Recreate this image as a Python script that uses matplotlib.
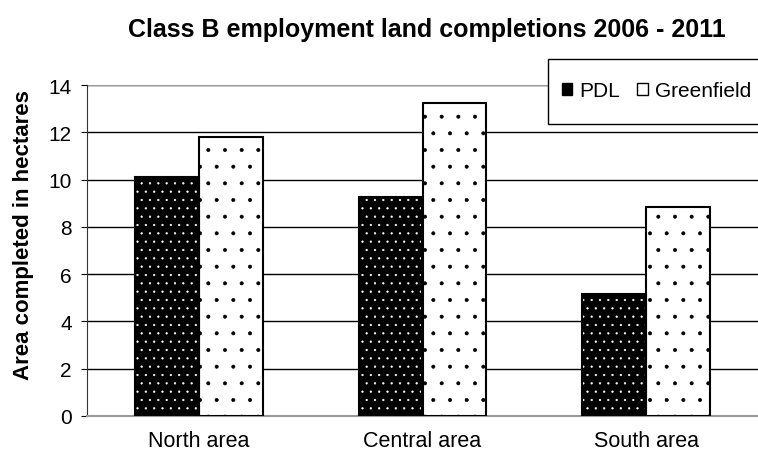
import numpy as np
import matplotlib.pyplot as plt
from matplotlib.patches import Patch, Rectangle

plt.rcParams['font.family'] = ['Liberation Sans', 'DejaVu Sans']
plt.rcParams['hatch.linewidth'] = 0.4

areas = ['North area', 'Central area', 'South area']
pdl = [10.1, 9.25, 5.15]
greenfield = [11.8, 13.25, 8.85]

W, H = 758, 456
fig = plt.figure(figsize=(W / 100, H / 100), dpi=100)
ax = fig.add_axes([87 / W, 1 - 417 / H, 671 / W, 331 / H])

x = np.arange(len(areas))
w = 0.286

# PDL: black fill with white dots, then black outline on top
ax.bar(x - w / 2, pdl, w, color='black', edgecolor='white', hatch='..', linewidth=0, zorder=3)
ax.bar(x - w / 2, pdl, w, fill=False, edgecolor='black', linewidth=1.5, zorder=4)
# Greenfield: white fill with black dots
ax.bar(x + w / 2, greenfield, w, color='white', edgecolor='black', hatch='.', linewidth=1.5, zorder=3)

ax.set_xlim(-0.5, 2.5)
ax.set_ylim(0, 14)
ax.set_yticks(range(0, 15, 2))
ax.set_xticks(x)
ax.set_xticklabels(areas, fontsize=15.5)
ax.tick_params(axis='y', labelsize=15, length=4, pad=7)
ax.tick_params(axis='x', length=0, pad=10)
ax.yaxis.grid(True, color='black', linewidth=1)
ax.set_axisbelow(True)

for s in ['top', 'right']:
    ax.spines[s].set_visible(False)
ax.spines['left'].set_color('#333333')
ax.spines['bottom'].set_color('#999999')
ax.spines['bottom'].set_linewidth(1.5)
ax.axhline(14, color='#999999', linewidth=1.5, zorder=2)

ax.set_ylabel('Area completed in hectares', fontsize=16, fontweight='bold')
ax.yaxis.set_label_coords((34 - 87) / 671, (417 - 235) / 331)
fig.text(427 / W, 1 - 30 / H, 'Class B employment land completions 2006 - 2011',
         ha='center', va='center', fontsize=18, fontweight='bold')

# legend frame runs off the right edge like the reference
fig.add_artist(Rectangle((548 / W, 1 - 125 / H), 220 / W, 65 / H, transform=fig.transFigure,
                         facecolor='white', edgecolor='black', linewidth=1, zorder=5))
handles = [Patch(facecolor='black', edgecolor='black'),
           Patch(facecolor='white', edgecolor='black')]
leg = fig.legend(handles, ['PDL', 'Greenfield'], loc='center left',
                 bbox_to_anchor=(562 / W, 1 - 92 / H), ncol=2, fontsize=15,
                 frameon=False, handlelength=0.5, handleheight=0.5,
                 handletextpad=0.35, columnspacing=0.8, borderpad=0,
                 borderaxespad=0)
leg.set_zorder(6)

fig.savefig('out.png', dpi=100)
